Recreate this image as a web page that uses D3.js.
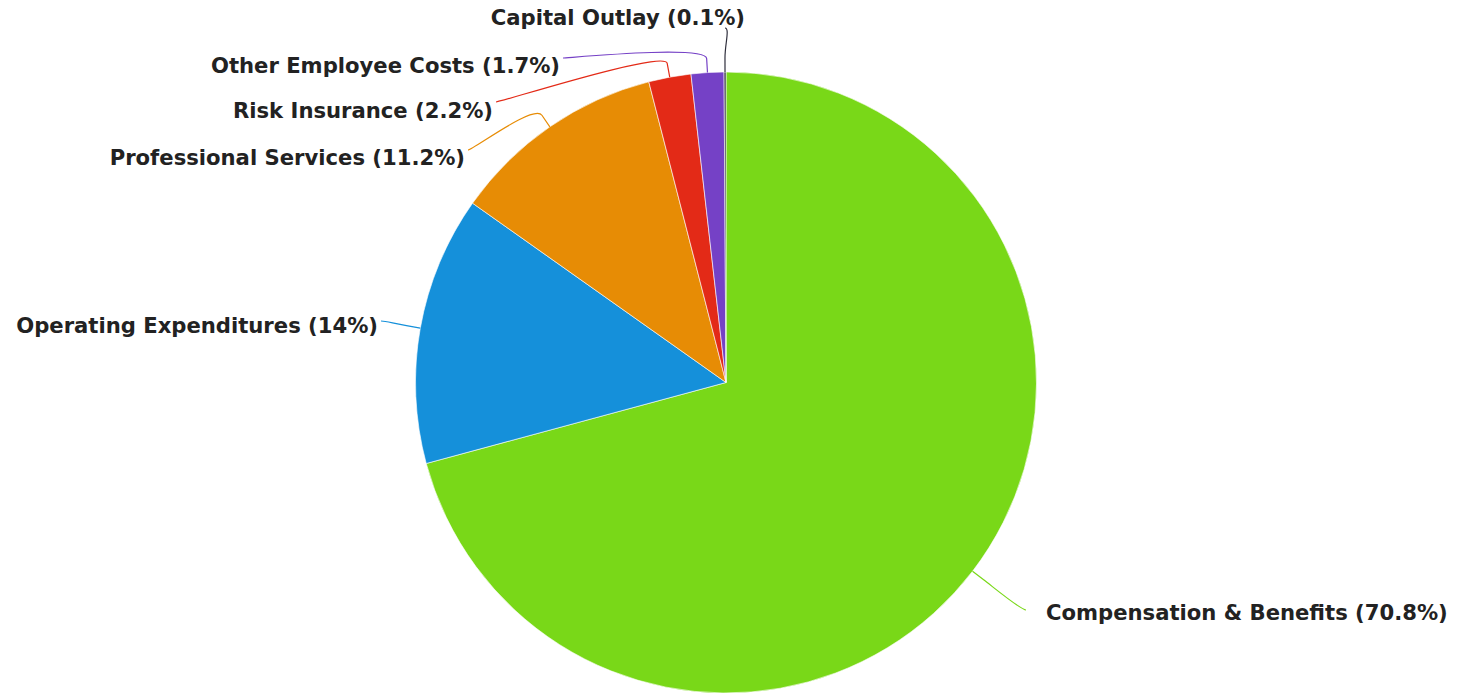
<!DOCTYPE html>
<html>
<head>
<meta charset="utf-8">
<script src="https://cdn.jsdelivr.net/npm/d3@7"></script>
<style>
  html, body { margin: 0; padding: 0; background: #ffffff; }
  svg { display: block; }
</style>
</head>
<body>
<svg id="chart" width="1462" height="698"></svg>
<script>
// ---- data ----
const categories = [
  "Compensation & Benefits",
  "Operating Expenditures",
  "Professional Services",
  "Risk Insurance",
  "Other Employee Costs",
  "Capital Outlay"
];
const values = [70.8, 14, 11.2, 2.2, 1.7, 0.1];
const percentLabels = ["70.8%", "14%", "11.2%", "2.2%", "1.7%", "0.1%"];
const colors = ["#79d818", "#1590da", "#e78c05", "#e32a17", "#7541c6", "#2e2e3c"];

// ---- layout (label placement, separate from data) ----
const labelTextX = [1046, 378, 465, 493, 560, 745];
const labelTextY = [613, 326, 158, 111, 66, 18];
const labelAlign = ["start", "end", "end", "end", "end", "end"];
const connX = [1026, 381, 468, 496, 563, 725];
const connY = [610, 321, 150, 102, 58, 28];

const W = 1462, H = 698;
const cx = 726, cy = 382.5, R = 310.5;
const breakOffset = 14;

const svg = d3.select("#chart");
const g = svg.append("g").attr("transform", `translate(${cx},${cy})`);

const pie = d3.pie().sort(null).value(d => d.v).startAngle(0).endAngle(2 * Math.PI);
const data = categories.map((c, i) => ({ c, v: values[i], p: percentLabels[i], i }));
const arcs = pie(data);
const arc = d3.arc().innerRadius(0).outerRadius(R);

// connectors (drawn under labels)
const conn = svg.append("g");
arcs.forEach((a, i) => {
  const ang = (a.startAngle + a.endAngle) / 2;
  const tx = cx + R * Math.sin(ang), ty = cy - R * Math.cos(ang);
  const bx = cx + (R + breakOffset) * Math.sin(ang), by = cy - (R + breakOffset) * Math.cos(ang);
  const lx = connX[i], ly = connY[i];
  const dir = labelAlign[i] === "start" ? -5 : 5;
  const path = d3.path();
  path.moveTo(lx, ly);
  path.bezierCurveTo(lx + dir, ly, 2 * bx - tx, 2 * by - ty, bx, by);
  path.lineTo(tx, ty);
  conn.append("path")
    .attr("d", path.toString())
    .attr("fill", "none")
    .attr("stroke", colors[i])
    .attr("stroke-width", 1.2);
});

// slices
g.selectAll("path.slice")
  .data(arcs)
  .join("path")
  .attr("class", "slice")
  .attr("d", arc)
  .attr("fill", d => colors[d.data.i])
  .attr("stroke", "#ffffff")
  .attr("stroke-width", 0.6)
  .attr("stroke-linejoin", "round");

// labels
const labels = svg.append("g")
  .attr("font-family", "'DejaVu Sans', Verdana, sans-serif")
  .attr("font-weight", "bold")
  .attr("fill", "#222222");

const texts = labels.selectAll("text")
  .data(data)
  .join("text")
  .attr("x", d => labelTextX[d.i])
  .attr("y", d => labelTextY[d.i])
  .attr("dy", "0.35em")
  .attr("text-anchor", d => labelAlign[d.i])
  .attr("stroke", "#ffffff")
  .attr("stroke-width", 3)
  .attr("stroke-linejoin", "round")
  .attr("paint-order", "stroke")
  .attr("font-size", 16)
  .text(d => `${d.c} (${d.p})`);

// fit font size so the longest label matches the reference width
const ref = texts.filter(d => d.i === 0).node();
const w16 = ref.getComputedTextLength();
const fs = 16 * 402 / w16;
texts.attr("font-size", fs.toFixed(2));
</script>
</body>
</html>
